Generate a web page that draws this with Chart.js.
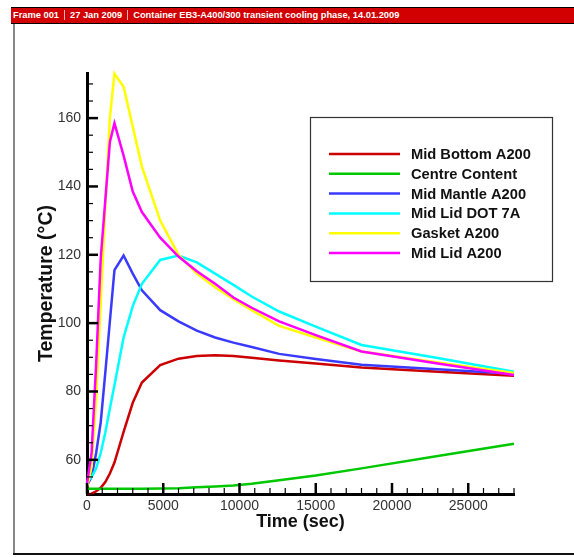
<!DOCTYPE html>
<html>
<head>
<meta charset="utf-8">
<script src="https://cdn.jsdelivr.net/npm/chart.js@4.4.1/dist/chart.umd.min.js"></script>
<style>
  html, body { margin: 0; padding: 0; background: #fff; }
  #page { position: relative; width: 574px; height: 557px; overflow: hidden; }
  #header {
    position: absolute; left: 11px; top: 7px; width: 563px; height: 15px;
    background: #d20000; border-top: 1px solid #000; border-bottom: 1px solid #000;
    color: #fff; font: bold 9.3px "Liberation Sans", Arial, sans-serif; line-height: 15px;
    white-space: nowrap; z-index: 2;
  }
  #header span { padding: 0 5px 0 2px; }
  #header span + span { border-left: 1px solid #f4b0b0; padding-left: 5px; }
  #frameLeft { position: absolute; left: 13px; top: 24px; width: 2px; height: 530px; background: #888; }
  #frameBottom { position: absolute; left: 13px; top: 553px; width: 561px; height: 2px; background: #111; }
  #chart { position: absolute; left: 0; top: 0; }
</style>
</head>
<body>
<div id="page">
  <div id="header"><span>Frame 001</span><span>27 Jan 2009</span><span>Container EB3-A400/300 transient cooling phase, 14.01.2009</span></div>
  <div id="frameLeft"></div>
  <div id="frameBottom"></div>
  <canvas id="chart" width="574" height="557"></canvas>
</div>
<script>
// time axis (sec)
const times = [0, 300, 600, 900, 1200, 1500, 1800, 2400, 3000, 3600, 4800, 6000, 7200, 8400, 9600, 10800, 12600, 15000, 18000, 23000, 28000];

// temperatures (°C)
const midBottom   = [50.0, 50.1, 50.8, 51.8, 53.5, 56.0, 59.2, 68.2, 76.7, 82.6, 87.7, 89.6, 90.4, 90.6, 90.4, 89.9, 89.1, 88.2, 87.0, 85.8, 84.6];
const centre      = [51.5, 51.5, 51.5, 51.5, 51.5, 51.5, 51.5, 51.5, 51.5, 51.5, 51.6, 51.7, 52.0, 52.2, 52.5, 53.0, 54.0, 55.4, 57.5, 61.1, 64.7];
const midMantle   = [52.5, 55.0, 62.0, 71.0, 85.5, 100.5, 115.5, 119.8, 114.5, 109.6, 103.8, 100.5, 97.8, 95.8, 94.3, 93.0, 91.0, 89.5, 87.8, 86.5, 85.2];
const midLidDot   = [53.5, 55.0, 57.5, 62.0, 68.0, 75.0, 81.8, 95.8, 105.0, 111.5, 118.5, 119.8, 117.8, 114.5, 111.2, 107.8, 103.4, 99.0, 93.6, 89.8, 85.8];
const gasket      = [52.0, 58.0, 78.0, 106.0, 134.0, 160.0, 173.0, 169.2, 157.5, 145.8, 130.0, 120.0, 114.5, 110.5, 107.0, 103.8, 99.2, 95.8, 91.7, 88.5, 85.4];
const midLid      = [53.0, 62.0, 88.0, 119.0, 136.0, 153.0, 158.5, 149.0, 138.5, 132.5, 125.0, 119.5, 115.2, 111.5, 107.5, 104.5, 100.5, 96.5, 91.7, 88.2, 84.8];

const seriesNames  = ["Mid Bottom A200", "Centre Content", "Mid Mantle A200", "Mid Lid DOT 7A", "Gasket A200", "Mid Lid A200"];
const seriesValues = [midBottom, centre, midMantle, midLidDot, gasket, midLid];
const seriesColors = ["#cc0000", "#00c800", "#3a3aff", "#00ffff", "#ffff00", "#ff00ff"];

// tick labels
const xTicks = [0, 5000, 10000, 15000, 20000, 25000];
const yTicks = [60, 80, 100, 120, 140, 160];
const xMinorStep = 1000;
const yMinorStep = 5;

const FONT = '"Liberation Sans", Arial, sans-serif';

const datasets = seriesValues.map((vals, i) => ({
  label: seriesNames[i],
  data: vals.map((v, k) => ({ x: times[k], y: v })),
  borderColor: seriesColors[i],
  borderWidth: 2.5,
  pointRadius: 0,
  tension: 0,
  fill: false,
  clip: false,
  order: seriesValues.length - i   // last series drawn on top
}));

// tick marks drawn inside the plot like the original
const innerTicks = {
  id: 'innerTicks',
  afterDatasetsDraw(chart) {
    const { ctx, chartArea: a, scales: { x, y } } = chart;
    ctx.save();
    ctx.strokeStyle = '#000';
    for (let t = x.min; t <= x.max; t += xMinorStep) {
      const px = x.getPixelForValue(t);
      const major = xTicks.includes(t);
      ctx.lineWidth = major ? 2.5 : 1.2;
      ctx.beginPath();
      ctx.moveTo(px, a.bottom);
      ctx.lineTo(px, a.bottom - (major ? 11 : 6));
      ctx.stroke();
    }
    for (let v = y.min; v <= y.max; v += yMinorStep) {
      const py = y.getPixelForValue(v);
      const major = yTicks.includes(v);
      ctx.lineWidth = major ? 2.5 : 1.2;
      ctx.beginPath();
      ctx.moveTo(a.left, py);
      ctx.lineTo(a.left + (major ? 11 : 6), py);
      ctx.stroke();
    }
    ctx.restore();
  }
};

// boxed legend inside the plot
const boxLegend = {
  id: 'boxLegend',
  afterDraw(chart) {
    const ctx = chart.ctx;
    ctx.save();
    ctx.fillStyle = '#fff';
    ctx.fillRect(310, 117, 242, 164);
    ctx.strokeStyle = '#333';
    ctx.lineWidth = 1.2;
    ctx.strokeRect(310.5, 117.5, 242, 164);
    ctx.font = 'bold 14.7px ' + FONT;
    ctx.textBaseline = 'middle';
    chart.data.datasets.forEach((ds, i) => {
      const yy = 154 + i * 19.8;
      ctx.strokeStyle = ds.borderColor;
      ctx.lineWidth = 2.5;
      ctx.beginPath();
      ctx.moveTo(329, yy);
      ctx.lineTo(400, yy);
      ctx.stroke();
      ctx.fillStyle = '#111';
      ctx.fillText(ds.label, 411, yy + 1);
    });
    ctx.restore();
  }
};

new Chart(document.getElementById('chart'), {
  type: 'line',
  data: { datasets: datasets },
  options: {
    responsive: false,
    animation: false,
    events: [],
    layout: { padding: { left: 0, top: 73, right: 60, bottom: 0 } },
    plugins: { legend: { display: false }, tooltip: { enabled: false } },
    scales: {
      x: {
        type: 'linear',
        min: 0,
        max: 28000,
        afterFit(scale) { scale.height = 63; },
        afterBuildTicks(scale) { scale.ticks = xTicks.map(v => ({ value: v })); },
        grid: { display: false, drawTicks: false },
        border: { display: true, color: '#000', width: 3 },
        ticks: { padding: 4, color: '#333', font: { family: FONT, size: 14 }, maxRotation: 0, callback: v => String(v) },
        title: { display: true, text: 'Time (sec)', color: '#111', font: { family: FONT, size: 18, weight: 'bold' }, padding: { top: 0, bottom: 24 } }
      },
      y: {
        type: 'linear',
        min: 50,
        max: 173.2,
        afterFit(scale) { scale.width = 87; },
        afterBuildTicks(scale) { scale.ticks = yTicks.map(v => ({ value: v })); },
        grid: { display: false, drawTicks: false },
        border: { display: true, color: '#000', width: 3 },
        ticks: { padding: 6, color: '#333', font: { family: FONT, size: 14 }, callback: v => String(v) },
        title: { display: true, text: 'Temperature (°C)', color: '#111', font: { family: FONT, size: 19.5, weight: 'bold' }, padding: { top: 35, bottom: 0 } }
      }
    }
  },
  plugins: [innerTicks, boxLegend]
});
</script>
</body>
</html>
